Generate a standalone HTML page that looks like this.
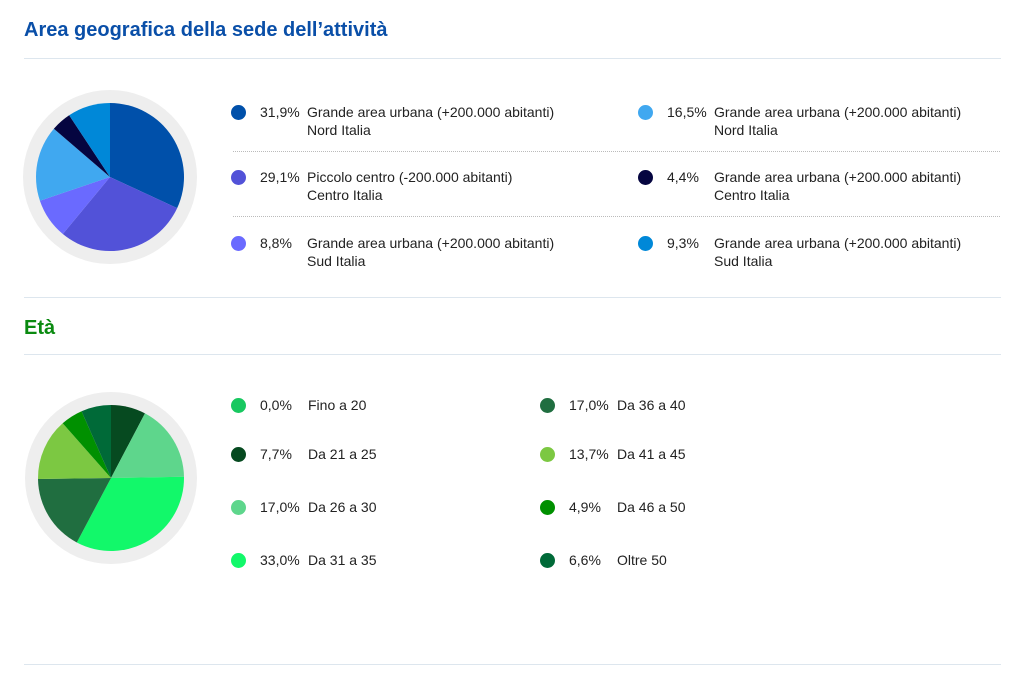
<!DOCTYPE html>
<html><head><meta charset="utf-8">
<style>
body{margin:0;width:1024px;height:690px;background:#fff;font-family:"Liberation Sans",sans-serif;color:#222;position:relative;overflow:hidden}
.t{position:absolute;left:24px;font-weight:bold;font-size:20px;margin:0}
.hr{position:absolute;left:24px;width:977px;height:1px;background:#dde6ee}
.dot{position:absolute;width:15px;height:15px;border-radius:50%}
.pct,.lab{position:absolute;font-size:14px;line-height:18px;color:#222}
.dl{position:absolute;height:0;border-top:1px dotted #bbb}
svg{position:absolute;left:0;top:0}
</style></head><body>
<h1 class="t" style="top:19px;color:#0a4fa8">Area geografica della sede dell’attività</h1>
<div class="hr" style="top:58px"></div>
<div class="hr" style="top:297px"></div>
<h1 class="t" style="top:317px;color:#0a8a10">Età</h1>
<div class="hr" style="top:354px"></div>
<div class="hr" style="top:664px"></div>
<div class="dl" style="left:233px;width:767px;top:151px"></div>
<div class="dl" style="left:233px;width:767px;top:216px"></div>
<svg width="1024" height="690" id="pies"></svg>
<script>
const geoLabels=["Grande area urbana (+200.000 abitanti)|Nord Italia","Piccolo centro (-200.000 abitanti)|Centro Italia","Grande area urbana (+200.000 abitanti)|Sud Italia","Grande area urbana (+200.000 abitanti)|Nord Italia","Grande area urbana (+200.000 abitanti)|Centro Italia","Grande area urbana (+200.000 abitanti)|Sud Italia"];
const geoValues=[31.9,29.1,8.8,16.5,4.4,9.3];
const geoColors=["#0050aa","#5252d8","#6a6aff","#40a8f0","#050540","#0088d8"];
const ageLabels=["Fino a 20","Da 21 a 25","Da 26 a 30","Da 31 a 35","Da 36 a 40","Da 41 a 45","Da 46 a 50","Oltre 50"];
const ageValues=[0.0,7.7,17.0,33.0,17.0,13.7,4.9,6.6];
const ageColors=["#18c860","#064a20","#5ed68c","#12f86a","#206e40","#7cc842","#009000","#006a38"];
const NS="http://www.w3.org/2000/svg";
const svg=document.getElementById('pies');
function pie(cx,cy,r,vals,cols,name){
  const ring=document.createElementNS(NS,'circle');
  ring.setAttribute('cx',cx);ring.setAttribute('cy',cy);ring.setAttribute('r',r+13);ring.setAttribute('fill','#eeeeee');
  
  
  svg.appendChild(ring);
  const tot=vals.reduce((a,b)=>a+b,0);let a=0;
  vals.forEach((v,i)=>{
    if(v<=0)return;
    const a0=a/tot*2*Math.PI;a+=v;const a1=a/tot*2*Math.PI;
    const x0=cx+r*Math.sin(a0),y0=cy-r*Math.cos(a0),x1=cx+r*Math.sin(a1),y1=cy-r*Math.cos(a1);
    const p=document.createElementNS(NS,'path');
    p.setAttribute('d',`M${cx},${cy}L${x0},${y0}A${r},${r} 0 ${a1-a0>Math.PI?1:0} 1 ${x1},${y1}Z`);
    p.setAttribute('fill',cols[i]);
    
    
    svg.appendChild(p);
  });
}
pie(110,177,74,geoValues,geoColors,'geo-pie');
pie(111,478,73,ageValues,ageColors,'age-pie');
function fmt(v){return v.toFixed(1).replace('.',',')+'%';}
function add(cls,x,y,html,name,extra){
  const d=document.createElement('div');d.className=cls;d.style.left=x+'px';d.style.top=y+'px';d.innerHTML=html;
  if(extra)d.style.background=extra;
  
  
  document.body.appendChild(d);
}
geoValues.forEach((v,i)=>{
  const col=Math.floor(i/3),row=i%3;
  const bx=col?645:238,y=[103,168,234][row];
  add('dot',bx-7,y+2,'','legend-marker',geoColors[i]);
  add('pct',bx+22,y,fmt(v),'legend-percent');
  add('lab',bx+69,y,geoLabels[i].replace('|','<br>'),'legend-label');
});
ageValues.forEach((v,i)=>{
  const col=Math.floor(i/4),row=i%4;
  const bx=col?547:238,y=[396,445,498,551][row];
  add('dot',bx-7,y+2,'','legend-marker',ageColors[i]);
  add('pct',bx+22,y,fmt(v),'legend-percent');
  add('lab',bx+70,y,ageLabels[i],'legend-label');
});
</script>
</body></html>
